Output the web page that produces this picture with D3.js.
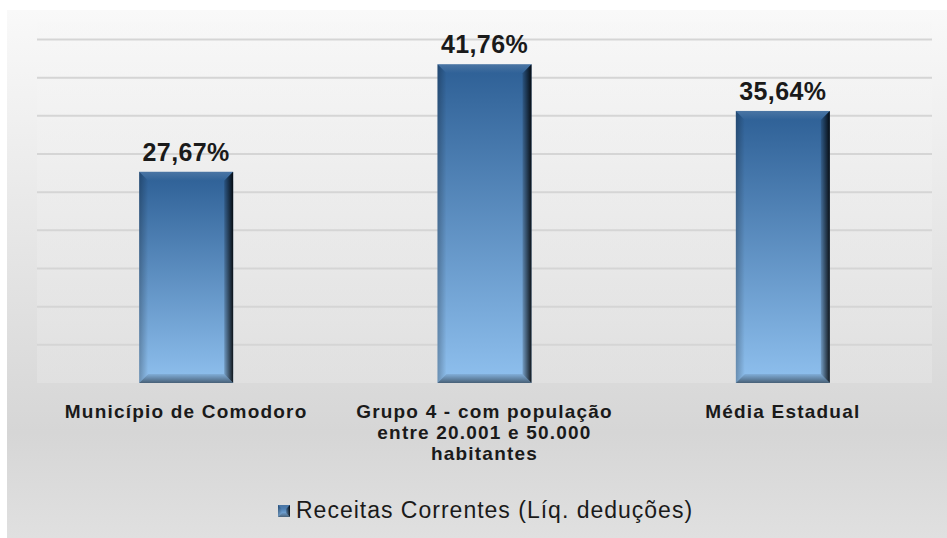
<!DOCTYPE html>
<html><head><meta charset="utf-8">
<script src="https://cdn.jsdelivr.net/npm/d3@7"></script>
<style>html,body{margin:0;padding:0;background:#fff;}svg{display:block;}</style>
</head><body>
<script>
const categories = [["Município de Comodoro"], ["Grupo 4 - com população", "entre 20.001 e 50.000", "habitantes"], ["Média Estadual"]];
const values = [27.67, 41.76, 35.64];
const labels = ["27,67%", "41,76%", "35,64%"];
const seriesName = "Receitas Correntes (Líq. deduções)";
const gridTicks = [5, 10, 15, 20, 25, 30, 35, 40, 45];

const W = 947, H = 538;
const FONT = "Liberation Sans, Arial, sans-serif";
const svg = d3.select("body").append("svg").attr("width", W).attr("height", H);
const defs = svg.append("defs");

function grad(id, vertical, stops) {
  const g = defs.append("linearGradient").attr("id", id).attr("x1", 0).attr("y1", 0)
    .attr("x2", vertical ? 0 : 1).attr("y2", vertical ? 1 : 0);
  stops.forEach(s => g.append("stop").attr("offset", s[0]).attr("stop-color", s[1]).attr("stop-opacity", s[2] == null ? 1 : s[2]));
}
grad("bg", true, [["0%", "#f9f9f9"], ["80%", "#d6d6d6"], ["100%", "#e0e0e0"]]);
grad("pg", true, [["0%", "#f7f7f7"], ["100%", "#e4e4e4"]]);
grad("barG", true, [["0%", "#2d5f95"], ["100%", "#8fc0ee"]]);
grad("rightG", false, [["0%", "#000", 0.15], ["100%", "#000", 0.88]]);
grad("leftG", false, [["0%", "#000", 0.25], ["100%", "#000", 0.0]]);
grad("botG", true, [["0%", "#000", 0.08], ["100%", "#000", 0.5]]);
grad("topG", true, [["0%", "#fff", 0.14], ["100%", "#fff", 0.0]]);

// outer chart area
svg.append("rect").attr("x", 7).attr("y", 10).attr("width", W - 7).attr("height", H - 10).attr("fill", "url(#bg)");

const plot = {left: 37, right: 932, top: 22, bottom: 383};
svg.append("rect").attr("x", plot.left).attr("y", plot.top).attr("width", plot.right - plot.left)
  .attr("height", plot.bottom - plot.top).attr("fill", "url(#pg)").attr("opacity", 0.6);

const x = d3.scaleBand().domain(d3.range(values.length)).range([plot.left, plot.right]).paddingInner(0.685).paddingOuter(0.3425);
const y = d3.scaleLinear().domain([0, 45]).range([plot.bottom, 39.5]);

svg.append("g").selectAll("line").data(gridTicks).join("line")
  .attr("x1", plot.left).attr("x2", plot.right)
  .attr("y1", d => y(d)).attr("y2", d => y(d))
  .attr("stroke", "#d5d5d5").attr("stroke-width", 2);

function bevelBar(g, x0, y0, w, h, b) {
  g.append("rect").attr("x", x0).attr("y", y0).attr("width", w).attr("height", h).attr("fill", "url(#barG)");
  const x1 = x0 + w, y1 = y0 + h;
  g.append("polygon").attr("points", [[x0, y0], [x1, y0], [x1 - b, y0 + b], [x0 + b, y0 + b]].join(" ")).attr("fill", "url(#topG)");
  g.append("polygon").attr("points", [[x0, y0], [x0 + b, y0 + b], [x0 + b, y1 - b], [x0, y1]].join(" ")).attr("fill", "url(#leftG)");
  g.append("polygon").attr("points", [[x1, y0], [x1, y1], [x1 - b, y1 - b], [x1 - b, y0 + b]].join(" ")).attr("fill", "url(#rightG)");
  g.append("polygon").attr("points", [[x0, y1], [x1, y1], [x1 - b, y1 - b], [x0 + b, y1 - b]].join(" ")).attr("fill", "url(#botG)");
}

const bars = svg.append("g");
values.forEach((v, i) => {
  bevelBar(bars.append("g"), x(i), y(v), x.bandwidth(), y(0) - y(v), 9);
});

svg.append("g").selectAll("text").data(values).join("text")
  .attr("x", (d, i) => x(i) + x.bandwidth() / 2)
  .attr("y", d => y(d) - 11)
  .attr("text-anchor", "middle")
  .attr("font-family", FONT)
  .attr("font-weight", "bold").attr("font-size", 25).attr("letter-spacing", 0.4).attr("fill", "#1a1a1a")
  .text((d, i) => labels[i]);

const cat = svg.append("g");
categories.forEach((lines, i) => {
  const t = cat.append("text")
    .attr("x", x(i) + x.bandwidth() / 2).attr("y", 418)
    .attr("text-anchor", "middle")
    .attr("font-family", FONT)
    .attr("font-weight", "bold").attr("font-size", 19).attr("letter-spacing", 1.2).attr("fill", "#1a1a1a");
  lines.forEach((l, k) => {
    t.append("tspan").attr("x", x(i) + x.bandwidth() / 2).attr("dy", k === 0 ? 0 : 21).text(l);
  });
});

// legend
const lg = svg.append("g");
bevelBar(lg, 278, 505, 12, 12, 4);
lg.append("text").attr("x", 296).attr("y", 518)
  .attr("font-family", FONT)
  .attr("font-size", 23).attr("letter-spacing", 1.0).attr("fill", "#1a1a1a").text(seriesName);
</script>
</body></html>
